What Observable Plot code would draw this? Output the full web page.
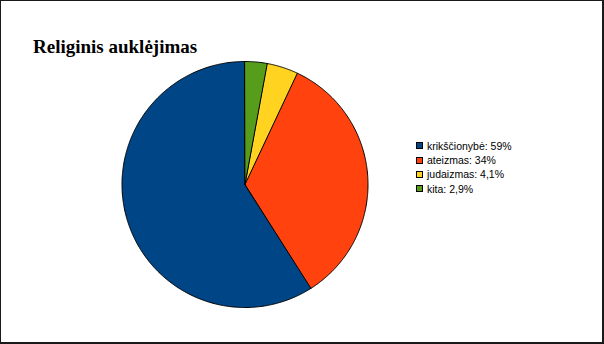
<!DOCTYPE html>
<html>
<head>
<meta charset="utf-8">
<script src="https://cdn.jsdelivr.net/npm/d3@7"></script>
<script src="https://cdn.jsdelivr.net/npm/@observablehq/plot@0.6"></script>
<style>
  html, body { margin: 0; padding: 0; background: #fff; }
  #chart { position: relative; width: 604px; height: 344px; overflow: hidden; background: #fff; }
  #chart svg { position: absolute; left: 0; top: 0; }
  #frame { position: absolute; left: 0; top: 0; width: 601px; height: 341px; border: 1px solid #1a1a1a; border-right-width: 2px; border-bottom-width: 2px; pointer-events: none; }
  #title { position: absolute; left: 33px; top: 36px; line-height: 19px; font: bold 19px "Liberation Serif", "Times New Roman", serif; color: #000; white-space: nowrap; }
  #legend { position: absolute; left: 416px; top: 138.5px; font: 10.5px "Liberation Sans", Arial, sans-serif; color: #000; }
  .row { display: flex; align-items: center; height: 14.4px; line-height: 14.4px; white-space: nowrap; }
  .sw { width: 5px; height: 5px; border: 1px solid #000; margin-right: 4px; flex: none; }
</style>
</head>
<body>
<div id="chart">
  <div id="title">Religinis auklėjimas</div>
  <div id="legend"></div>
  <div id="frame"></div>
</div>
<script>
// Religious upbringing shares (%)
const categories = ["krikščionybė", "ateizmas", "judaizmas", "kita"];
const values = [59, 34, 4.1, 2.9];
const colors = ["#004586", "#ff420e", "#ffd320", "#579d1c"];

const rows = categories.map((cat, i) => ({cat, value: values[i]}));

// Slices run counter-clockwise from twelve o'clock
const pie = d3.pie().sort(null).value(d => d.value).startAngle(0).endAngle(-2 * Math.PI);
const arcs = pie(rows);

// Outline of each slice: centre, then points along its arc (unit circle)
const outline = [];
for (const a of arcs) {
  const span = a.endAngle - a.startAngle;
  const n = Math.max(2, Math.ceil(Math.abs(span) / (Math.PI / 360)));
  outline.push({cat: a.data.cat, x: 0, y: 0});
  for (let k = 0; k <= n; k++) {
    const t = a.startAngle + span * k / n;
    outline.push({cat: a.data.cat, x: Math.sin(t), y: Math.cos(t)});
  }
}

const plot = Plot.plot({
  width: 604,
  height: 344,
  marginLeft: 121.5,
  marginRight: 236.5,
  marginTop: 61,
  marginBottom: 37,
  style: {background: "transparent"},
  x: {domain: [-1, 1], axis: null},
  y: {domain: [-1, 1], axis: null},
  color: {domain: categories, range: colors},
  marks: [
    Plot.line(outline, {
      x: "x", y: "y", z: "cat", fill: "cat",
      stroke: "#000", strokeWidth: 1, curve: "linear-closed"
    })
  ]
});
document.getElementById("chart").prepend(plot);

// Legend built from the same colour scale
const color = plot.scale("color");
const fmt = v => String(v).replace(".", ",") + "%";
const legend = document.getElementById("legend");
rows.forEach(r => {
  const row = document.createElement("div");
  row.className = "row";
  const sw = document.createElement("span");
  sw.className = "sw";
  sw.style.background = color.apply(r.cat);
  const label = document.createElement("span");
  label.textContent = `${r.cat}: ${fmt(r.value)}`;
  row.append(sw, label);
  legend.append(row);
});
</script>
</body>
</html>
